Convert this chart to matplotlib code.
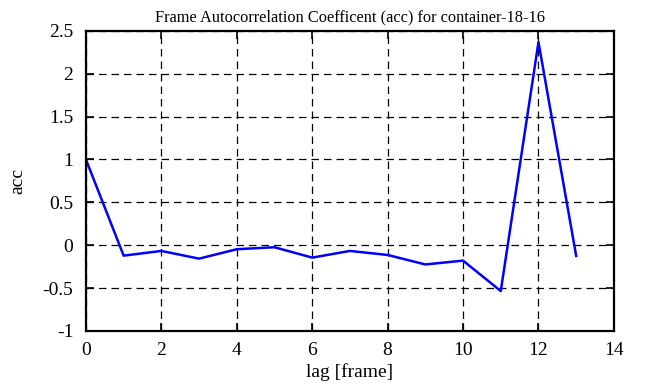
import numpy as np
import matplotlib
matplotlib.use("Agg")
from matplotlib import pyplot as plt

# lag values and autocorrelation coefficients
lags = [0, 1, 2, 3, 4, 5, 6, 7, 8, 9, 10, 11, 12, 13]
acc = [1.0, -0.122, -0.067, -0.157, -0.047, -0.024, -0.145, -0.067,
       -0.114, -0.225, -0.18, -0.535, 2.37, -0.125]

title = "Frame Autocorrelation Coefficent (acc) for container-18-16"
xticks = [0, 2, 4, 6, 8, 10, 12, 14]
yticks = [-1, -0.5, 0, 0.5, 1, 1.5, 2, 2.5]
ylabels = ["-1", "-0.5", "0", "0.5", "1", "1.5", "2", "2.5"]

plt.rcParams['font.family'] = ['Liberation Serif', 'DejaVu Serif']
plt.rcParams['font.size'] = 14

fig = plt.figure(figsize=(6.51, 3.87), dpi=100)
ax = fig.add_axes([0.132, 0.145, 0.811, 0.775])

ax.plot(lags, acc, color='#0000ff', linewidth=1.8)

ax.set_xlim(0, 14)
ax.set_ylim(-1, 2.5)
ax.set_xticks(xticks)
ax.set_yticks(yticks)
ax.set_yticklabels(ylabels)
ax.grid(True, color='black', linestyle=(0, (6, 4)), linewidth=0.9)

for s in ax.spines.values():
    s.set_linewidth(1.6)
ax.tick_params(direction='in', length=6, width=1.2, top=True, right=True)
ax.tick_params(axis='x', pad=8)
ax.tick_params(axis='y', pad=9)

ax.set_title(title, fontsize=11.8, pad=7)
ax.set_xlabel("lag [frame]", labelpad=3)
ax.set_ylabel("acc", labelpad=12)

fig.savefig("out.png", dpi=100)
